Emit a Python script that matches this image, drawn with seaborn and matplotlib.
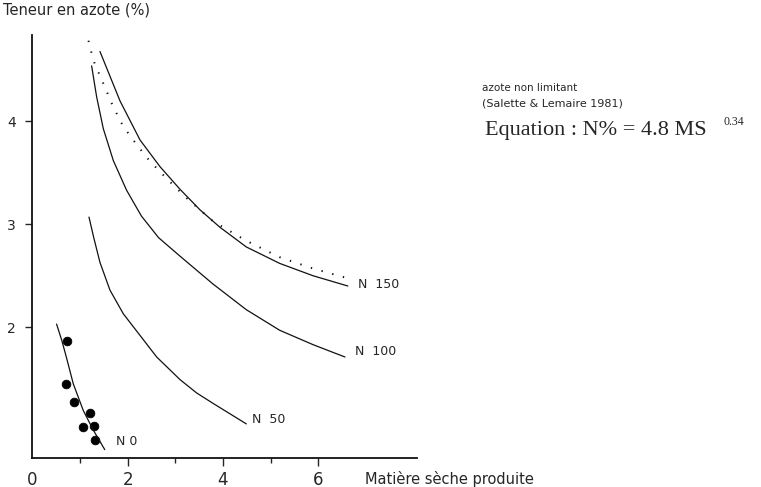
import pandas as pd
import seaborn as sns
import matplotlib.pyplot as plt

# values (MS in t/ha, N in %)
ms_ref = [1.13, 1.21, 1.31, 1.49, 1.70, 1.91, 2.15, 2.40, 2.68, 3.20, 3.79, 4.49, 5.19, 5.89, 6.66]
n_ref = [4.89, 4.72, 4.56, 4.37, 4.14, 3.95, 3.80, 3.65, 3.51, 3.27, 3.03, 2.84, 2.68, 2.57, 2.47]

ms_150 = [1.42, 1.84, 2.26, 2.68, 3.10, 3.52, 3.94, 4.49, 5.19, 5.89, 6.62]
n_150 = [4.68, 4.20, 3.82, 3.56, 3.34, 3.14, 2.97, 2.78, 2.62, 2.50, 2.40]

ms_100 = [1.245, 1.35, 1.49, 1.70, 1.98, 2.29, 2.65, 3.10, 3.79, 4.49, 5.19, 5.89, 6.56]
n_100 = [4.54, 4.24, 3.93, 3.62, 3.33, 3.08, 2.87, 2.69, 2.42, 2.17, 1.97, 1.83, 1.71]

ms_50 = [1.19, 1.29, 1.42, 1.63, 1.91, 2.61, 3.10, 3.45, 3.79, 4.49]
n_50 = [3.07, 2.87, 2.63, 2.36, 2.13, 1.71, 1.49, 1.36, 1.26, 1.06]

ms_0 = [0.51, 0.62, 0.72, 0.86, 1.07, 1.28, 1.52]
n_0 = [2.03, 1.87, 1.70, 1.45, 1.19, 1.00, 0.81]

ms_pts = [0.72, 0.71, 0.88, 1.21, 1.06, 1.29, 1.31]
n_pts = [1.87, 1.45, 1.27, 1.17, 1.03, 1.04, 0.90]

curve_labels = ["N  150", "N  100", "N  50", "N 0"]
label_pos = [(6.83, 2.41), (6.77, 1.76), (4.61, 1.10), (1.76, 0.89)]

xtick_vals = [0, 2, 4, 6]
ytick_vals = [2, 3, 4]

sns.set_style("ticks")
plt.rcParams['font.family'] = ['DejaVu Sans']

fig = plt.figure(figsize=(7.61, 4.87), dpi=100)
ax = fig.add_axes([0.0424, 0.0595, 0.5055, 0.8686])

line_kw = dict(color="#111111", linewidth=0.9, estimator=None, ax=ax)

sns.lineplot(x=ms_ref, y=n_ref, color="#111111", linewidth=1.4,
             linestyle=(0, (0.7, 5)), estimator=None, ax=ax)
for xs, ys in [(ms_150, n_150), (ms_100, n_100), (ms_50, n_50), (ms_0, n_0)]:
    sns.lineplot(x=xs, y=ys, **line_kw)
for ln in ax.lines:
    ln.set_solid_joinstyle("round")
sns.scatterplot(x=ms_pts, y=n_pts, color="black", s=40, marker="o",
                edgecolor="black", ax=ax)

for lab, (x, y) in zip(curve_labels, label_pos):
    ax.text(x, y, lab, fontsize=9, ha="left", va="center", clip_on=False)

ax.set_xlim(0, 8.07)
ax.set_ylim(0.728, 4.84)

ax.set_xticks(xtick_vals)
ax.set_xticklabels([str(v) for v in xtick_vals], fontsize=12)
ax.set_xticks([1, 3, 5], minor=True)
ax.xaxis.get_major_ticks()[0].tick1line.set_visible(False)
ax.tick_params(axis="x", which="major", length=6, width=1, pad=3)
ax.tick_params(axis="x", which="minor", length=3.5, width=1)

ax.set_yticks(ytick_vals)
ax.set_yticklabels([str(v) for v in ytick_vals], fontsize=10)
ax.tick_params(axis="y", length=5, width=1, pad=7)

sns.despine(ax=ax)
for s in ["left", "bottom"]:
    ax.spines[s].set_linewidth(1.3)
    ax.spines[s].set_color("#111111")

ax.set_xlabel("")
ax.set_ylabel("")

# axis titles placed like in the scan
fig.text(3 / 761, 1 - 10 / 487, "Teneur en azote (%)", fontsize=10.5,
         ha="left", va="center")
fig.text(365 / 761, 1 - 479 / 487, "Matière sèche produite", fontsize=10.5,
         ha="left", va="center")

# reference curve legend and equation
fig.text(482 / 761, 1 - 88 / 487, "azote non limitant", fontsize=7.5,
         ha="left", va="center")
fig.text(482 / 761, 1 - 104 / 487, "(Salette & Lemaire 1981)", fontsize=8,
         ha="left", va="center")
fig.text(485 / 761, 1 - 131 / 487, "Equation : N% = 4.8 MS", fontsize=16,
         family=["Liberation Serif"], ha="left", va="center")
fig.text(724 / 761, 1 - 122 / 487, "0.34", fontsize=8.5,
         family=["Liberation Serif"], ha="left", va="center")

fig.savefig("out.png", dpi=100)
